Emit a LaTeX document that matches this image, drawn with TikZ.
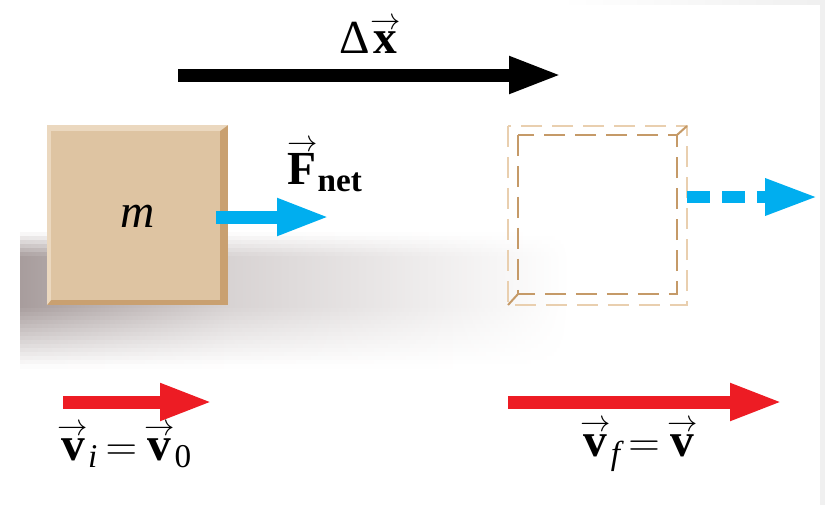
\documentclass[tikz,border=0pt]{standalone}
\usepackage{amsmath}
\usepackage{fontspec}
\setmainfont{Liberation Serif}
\usepackage{tikz}
\usetikzlibrary{arrows.meta}

\definecolor{blockface}{HTML}{DEC4A2}
\definecolor{blockdark}{HTML}{C9A070}
\definecolor{blocklight}{HTML}{EBD8BF}
\definecolor{ghostlight}{HTML}{E9CFAF}
\definecolor{ghostdark}{HTML}{C59A68}
\definecolor{forcecyan}{HTML}{00AEEF}
\definecolor{velred}{HTML}{ED1C24}
\definecolor{shadowgray}{HTML}{9E9292}

\newcommand{\vecb}[1]{{\vbox{\offinterlineskip\halign{\hfil##\hfil\cr$\scriptstyle\rightarrow$\cr\noalign{\kern1.5pt}\bfseries #1\cr}}}}

\begin{document}
\begin{tikzpicture}[x=0.02cm,y=-0.02cm,
  fatarrow/.style={line width=0.26cm,-{Triangle[length=1.06cm,width=0.68cm]}},
  ghostline/.style={line width=0.04cm,dash pattern=on 0.42cm off 0.2cm},
  biglabel/.style={font=\fontsize{27}{30}\selectfont,inner sep=0pt}]
\useasboundingbox (0,0) rectangle (825,505);
% page edge
\fill[black!6] (820,0) rectangle (825,505);
\shade[left color=white,right color=black!6] (560,0) rectangle (820,4);
% shadow on the floor
\foreach \i in {0,...,33} {
  \pgfmathsetmacro\t{(\i+0.5)/34}
  \pgfmathsetmacro\k{90*min(1,\t/0.18)*min(1,(1-\t)/0.45)}
  \pgfmathsetmacro\kk{0.45*\k}
  \shade[left color=shadowgray!\k,right color=shadowgray!\kk] (20,{232+4*\i}) rectangle (230.5,{236.6+4*\i});
  \shade[left color=shadowgray!\kk,right color=white] (230,{232+4*\i}) rectangle (570,{236.6+4*\i});
}
% the block
\fill[blockdark] (47,125) rectangle (228,305);
\fill[blocklight] (47,125) -- (228,125) -- (220,131) -- (51,131) -- (51,300) -- (47,305) -- cycle;
\fill[blockface] (51,131) rectangle (220,300);
\node[biglabel] (mass) at (138,216) {\textit{m}};
% net force
\coordinate (ftail) at (216,217);
\coordinate (fhead) at (330,217);
\draw[fatarrow,forcecyan] (ftail) -- (fhead);
\node[biglabel] (fnet) at (325,166) {$\vecb{F}_{\text{\bfseries net}}$};
% displacement
\coordinate (dxtail) at (178,75);
\coordinate (dxhead) at (562,75);
\draw[fatarrow,black] (dxtail) -- (dxhead);
\node[biglabel] (dx) at (370,36) {Δ$\vecb{x}$};
% block later on
\draw[ghostline,ghostlight] (508,126) rectangle (687,305);
\draw[ghostline,ghostdark] (518,135) rectangle (677,294);
\draw[ghostdark,line width=0.04cm] (677,135) -- (687,126) (518,294) -- (508,305);
\coordinate (gtail) at (687,197);
\coordinate (ghead) at (818,197);
\draw[fatarrow,forcecyan,line width=0.24cm,dash pattern=on 0.46cm off 0.24cm] (gtail) -- (ghead);
% velocities
\coordinate (vitail) at (63,402);
\coordinate (vihead) at (213,402);
\draw[fatarrow,velred] (vitail) -- (vihead);
\node[biglabel] (vi) at (125,446) {$\vecb{v}_{\textit{i}}\mkern3mu{=}\mkern3mu\vecb{v}_{\text{0}}$};
\coordinate (vftail) at (508,402);
\coordinate (vfhead) at (783,402);
\draw[fatarrow,velred] (vftail) -- (vfhead);
\node[biglabel] (vf) at (639,446) {$\vecb{v}_{\textit{f}}\mkern3mu{=}\mkern3mu\vecb{v}$};
\end{tikzpicture}
\end{document}
